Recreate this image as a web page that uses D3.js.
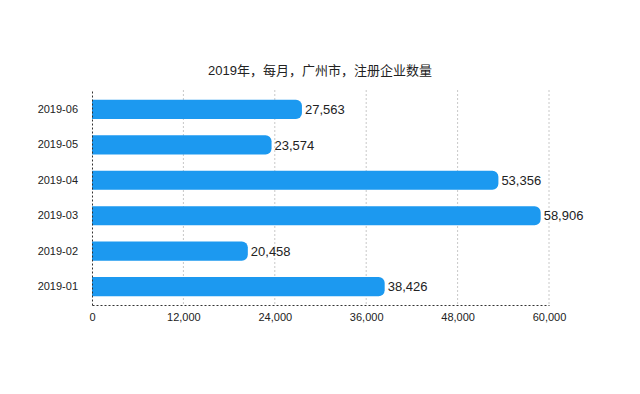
<!DOCTYPE html>
<html>
<head>
<meta charset="utf-8">
<script src="https://cdn.jsdelivr.net/npm/d3@7"></script>
<style>
	body { margin: 0; background: #fff; }
	text { font-family: "Helvetica Neue", "Liberation Sans", "Noto Sans CJK SC", sans-serif; }
</style>
</head>
<body>
<div id="chart"></div>
<script>
// data
const months = ["2019-06", "2019-05", "2019-04", "2019-03", "2019-02", "2019-01"];
const counts = [27563, 23574, 53356, 58906, 20458, 38426];
const xTicks = [0, 12000, 24000, 36000, 48000, 60000];
const title = "2019年，每月，广州市，注册企业数量";

const width = 640;
const height = 394;
const margin = {top: 91, right: 91, bottom: 89, left: 92};

let svg = d3.select("#chart")
	.append("svg")
	.attr("width", width)
	.attr("height", height);

let x = d3.scaleLinear()
	.domain([0, 60000])
	.range([margin.left, width - margin.right]);

let y = d3.scaleBand()
	.domain(months)
	.range([margin.top, height - margin.bottom])
	.paddingInner(0.46)
	.paddingOuter(0.25);

// title
svg.append("text")
	.attr("x", 320)
	.attr("y", 75)
	.attr("text-anchor", "middle")
	.attr("font-size", "13px")
	.attr("fill", "#222")
	.text(title);

// grid lines
svg.append("g")
	.selectAll("line")
	.data(xTicks.slice(1))
	.join("line")
	.attr("x1", d => x(d))
	.attr("x2", d => x(d))
	.attr("y1", margin.top - 1)
	.attr("y2", height - margin.bottom)
	.attr("stroke", "#c8c8c8")
	.attr("stroke-dasharray", "2,2");

// bars (square left, rounded right)
const r = 6;
const bh = y.bandwidth();
svg.append("g")
	.selectAll("path")
	.data(months)
	.join("path")
	.attr("fill", "#1c99f0")
	.attr("d", (d, i) => {
		let x0 = x(0), x1 = x(counts[i]), y0 = y(d);
		return `M${x0},${y0}H${x1 - r}A${r},${r} 0 0 1 ${x1},${y0 + r}V${y0 + bh - r}A${r},${r} 0 0 1 ${x1 - r},${y0 + bh}H${x0}Z`;
	});

// value labels
svg.append("g")
	.selectAll("text")
	.data(months)
	.join("text")
	.attr("x", (d, i) => x(counts[i]) + 3)
	.attr("y", d => y(d) + bh / 2)
	.attr("dy", "0.36em")
	.attr("font-size", "13px")
	.attr("fill", "#222")
	.text((d, i) => d3.format(",")(counts[i]));

// y axis
let yAxis = svg.append("g")
	.attr("transform", `translate(${margin.left},0)`)
	.call(d3.axisLeft(y).tickSize(0).tickPadding(14));
yAxis.select(".domain")
	.attr("stroke", "#333")
	.attr("stroke-dasharray", "2,2");
yAxis.selectAll("text")
	.attr("font-size", "11px")
	.attr("fill", "#222");

// x axis
let xAxis = svg.append("g")
	.attr("transform", `translate(0,${height - margin.bottom})`)
	.call(d3.axisBottom(x).tickValues(xTicks).tickSize(0).tickPadding(8).tickFormat(d3.format(",")));
xAxis.select(".domain")
	.attr("stroke", "#333")
	.attr("stroke-dasharray", "2,2");
xAxis.selectAll("text")
	.attr("font-size", "11px")
	.attr("fill", "#222");
</script>
</body>
</html>
